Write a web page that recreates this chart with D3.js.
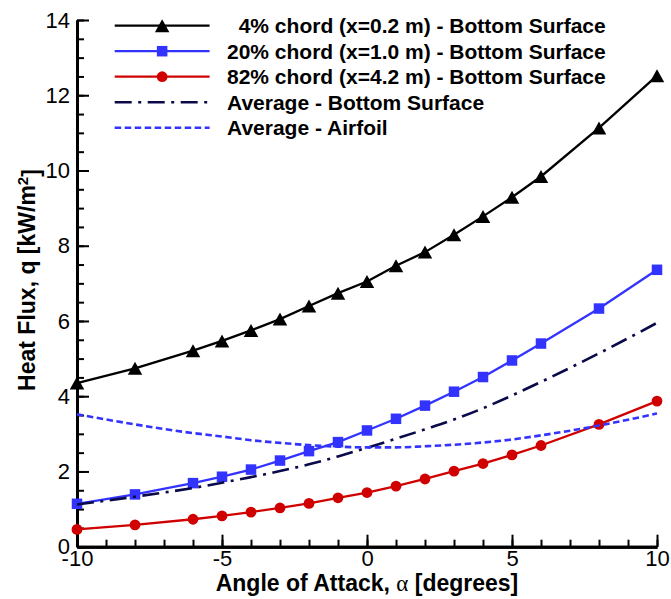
<!DOCTYPE html>
<html>
<head>
<meta charset="utf-8">
<script src="https://cdn.jsdelivr.net/npm/d3@7"></script>
<style>
  html, body { margin: 0; padding: 0; background: #fff; }
  svg { display: block; font-family: "Liberation Sans", Arial, Helvetica, sans-serif; }
</style>
</head>
<body>
<svg id="chart" width="671" height="599"></svg>
<script>
// Angle of attack samples (degrees)
const alpha = [-10, -8, -6, -5, -4, -3, -2, -1, 0, 1, 2, 3, 4, 5, 6, 8, 10];

// Heat flux q [kW/m^2] at each angle
const chord4     = [4.35, 4.74, 5.21, 5.47, 5.75, 6.05, 6.40, 6.74, 7.05, 7.47, 7.83, 8.29, 8.78, 9.29, 9.84, 11.13, 12.52];
const chord20    = [1.14, 1.39, 1.69, 1.86, 2.05, 2.29, 2.54, 2.78, 3.09, 3.40, 3.75, 4.12, 4.51, 4.95, 5.40, 6.33, 7.36];
const chord82    = [0.46, 0.58, 0.73, 0.82, 0.92, 1.03, 1.15, 1.30, 1.44, 1.61, 1.80, 2.01, 2.21, 2.44, 2.69, 3.25, 3.87];
const avgBottom  = [1.12, 1.33, 1.56, 1.70, 1.85, 2.01, 2.19, 2.40, 2.63, 2.87, 3.12, 3.38, 3.68, 4.02, 4.38, 5.14, 5.95];
const avgAirfoil = [3.52, 3.25, 3.02, 2.93, 2.83, 2.76, 2.70, 2.66, 2.64, 2.64, 2.67, 2.71, 2.77, 2.85, 2.96, 3.22, 3.54];

const seriesNames = [
  "4% chord (x=0.2 m) - Bottom Surface",
  "20% chord (x=1.0 m) - Bottom Surface",
  "82% chord (x=4.2 m) - Bottom Surface",
  "Average - Bottom Surface",
  "Average - Airfoil"
];

const xMajorTicks = [-10, -5, 0, 5, 10];
const xTickLabels = ["-10", "-5", "0", "5", "10"];
const yMajorTicks = [0, 2, 4, 6, 8, 10, 12, 14];
const yTickLabels = ["0", "2", "4", "6", "8", "10", "12", "14"];

const svg = d3.select("#chart");

const x = d3.scaleLinear().domain([-10, 10]).range([77, 657]);
const y = d3.scaleLinear().domain([0, 14]).range([546.7, 20]);

// Series styling
const styles = [
  { values: chord4,     color: "#000000", dash: null,             marker: "triangle", width: 2.3 },
  { values: chord20,    color: "#3333ff", dash: null,             marker: "square",   width: 2.3 },
  { values: chord82,    color: "#d00000", dash: null,             marker: "circle",   width: 2.3 },
  { values: avgBottom,  color: "#0a0a4a", dash: "17,6.5,3,6.5",   marker: null,       width: 2.6 },
  { values: avgAirfoil, color: "#3333ff", dash: "6.5,3.5",        marker: null,       width: 2.6 }
];

function drawMarker(g, kind, cx, cy, color) {
  if (kind === "triangle") {
    const w = 14.5, h = 13;
    g.append("path")
      .attr("d", `M${cx},${cy - h / 2}L${cx + w / 2},${cy + h / 2}L${cx - w / 2},${cy + h / 2}Z`)
      .attr("fill", color);
  } else if (kind === "square") {
    const s = 10.5;
    g.append("rect").attr("x", cx - s / 2).attr("y", cy - s / 2)
      .attr("width", s).attr("height", s).attr("fill", color);
  } else if (kind === "circle") {
    g.append("circle").attr("cx", cx).attr("cy", cy).attr("r", 5.4).attr("fill", color);
  }
}

// Axes: major and minor ticks point inward
const axisG = svg.append("g");

const xMinor = d3.axisBottom(x).tickValues(d3.range(-10, 11, 1)).tickSize(-7).tickSizeOuter(0).tickFormat("");
const xMajor = d3.axisBottom(x).tickValues(xMajorTicks).tickSize(-12).tickSizeOuter(0).tickPadding(4)
  .tickFormat((d, i) => xTickLabels[i]);
const yMinor = d3.axisLeft(y).tickValues(d3.range(0, 14.01, 0.5)).tickSize(-7).tickSizeOuter(0).tickFormat("");
const yMajor = d3.axisLeft(y).tickValues(yMajorTicks).tickSize(-12).tickSizeOuter(0).tickPadding(7)
  .tickFormat((d, i) => yTickLabels[i]);

function styleAxis(sel) {
  sel.select(".domain").attr("stroke", "#000").attr("stroke-width", 3);
  sel.selectAll(".tick line").attr("stroke", "#000").attr("stroke-width", 2);
  sel.selectAll(".tick text").attr("fill", "#000")
    .style("font-family", "'Liberation Sans', Arial, sans-serif")
    .style("font-size", "22px");
}

axisG.append("g").attr("transform", `translate(0,${y(0)})`).call(xMinor).call(styleAxis);
axisG.append("g").attr("transform", `translate(0,${y(0)})`).call(xMajor).call(styleAxis);
axisG.append("g").attr("transform", `translate(${x(-10)},0)`).call(yMinor).call(styleAxis);
axisG.append("g").attr("transform", `translate(${x(-10)},0)`).call(yMajor).call(styleAxis);

// Data lines and markers
const plotG = svg.append("g");
styles.forEach((s) => {
  const pts = alpha.map((a, i) => [a, s.values[i]]);
  const line = d3.line()
    .x(d => x(d[0])).y(d => y(d[1]))
    .curve(s.marker ? d3.curveLinear : d3.curveMonotoneX);
  plotG.append("path")
    .datum(pts)
    .attr("d", line)
    .attr("fill", "none")
    .attr("stroke", s.color)
    .attr("stroke-width", s.width)
    .attr("stroke-dasharray", s.dash)
    .attr("stroke-linejoin", "round");
  if (s.marker) {
    const mg = plotG.append("g");
    pts.forEach(p => drawMarker(mg, s.marker, x(p[0]), y(p[1]), s.color));
  }
});

// Legend
const legend = svg.append("g");
const legendX1 = 114.7, legendX2 = 209.6, legendText = 227;
const rowY0 = 25.7, rowStep = 25.5;

// width of a single digit, used to align "4%" with the two-digit entries
const probe = svg.append("text").text("0")
  .style("font-size", "21px").style("font-weight", "bold");
const digitW = probe.node().getComputedTextLength();
probe.remove();

seriesNames.forEach((name, i) => {
  const s = styles[i];
  const ry = rowY0 + i * rowStep;
  legend.append("line")
    .attr("x1", legendX1).attr("x2", legendX2).attr("y1", ry).attr("y2", ry)
    .attr("stroke", s.color).attr("stroke-width", s.width)
    .attr("stroke-dasharray", s.dash);
  if (s.marker) drawMarker(legend, s.marker, (legendX1 + legendX2) / 2, ry, s.color);
  const oneDigit = /^\d%/.test(name);
  legend.append("text")
    .attr("x", legendText + (oneDigit ? digitW : 0))
    .attr("y", ry)
    .attr("dy", "0.36em")
    .style("font-size", "21px")
    .style("font-weight", "bold")
    .attr("fill", "#000")
    .text(name);
});

// Axis titles
const xTitle = svg.append("text")
  .attr("x", x(0)).attr("y", 591)
  .attr("text-anchor", "middle")
  .style("font-size", "23px").style("font-weight", "bold");
xTitle.append("tspan").text("Angle of Attack, ");
xTitle.append("tspan").text("α")
  .style("font-family", "'Liberation Serif', 'DejaVu Serif', serif")
  .style("font-weight", "normal");
xTitle.append("tspan").text(" [degrees]");

const yTitle = svg.append("text")
  .attr("transform", "translate(35,280) rotate(-90)")
  .attr("text-anchor", "middle")
  .style("font-size", "23px").style("font-weight", "bold");
yTitle.append("tspan").text("Heat Flux, q [kW/m");
yTitle.append("tspan").text("2").attr("dy", "-0.45em").style("font-size", "15px");
yTitle.append("tspan").text("]").attr("dy", "0.45em");
</script>
</body>
</html>
